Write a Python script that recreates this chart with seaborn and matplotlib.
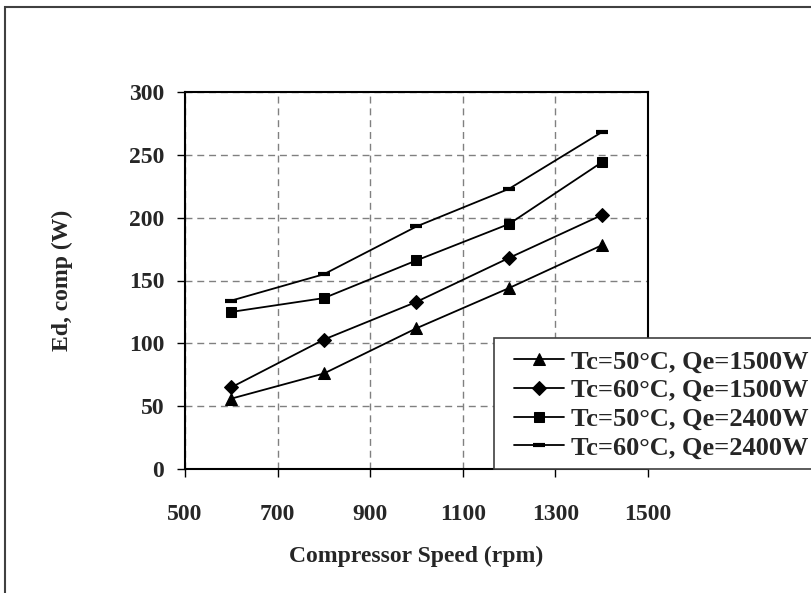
import matplotlib
matplotlib.use("Agg")
import matplotlib.pyplot as plt
import seaborn as sns
import pandas as pd
from matplotlib.patches import Rectangle

# ---- data ----
speed = [600, 800, 1000, 1200, 1400]
tc50_qe1500 = [56, 76, 112, 144, 178]
tc60_qe1500 = [65, 103, 133, 168, 202]
tc50_qe2400 = [125, 136, 166, 195, 244]
tc60_qe2400 = [134, 155, 193, 223, 268]
series_labels = ["Tc=50°C, Qe=1500W", "Tc=60°C, Qe=1500W",
                 "Tc=50°C, Qe=2400W", "Tc=60°C, Qe=2400W"]
x_ticks = [500, 700, 900, 1100, 1300, 1500]
y_ticks = [0, 50, 100, 150, 200, 250, 300]

sns.set_style("white")
plt.rcParams["font.family"] = ["Liberation Serif", "DejaVu Serif"]
plt.rcParams["font.weight"] = "bold"

W, H = 812, 593
fig = plt.figure(figsize=(W / 100, H / 100), dpi=100)
ax = fig.add_axes([185 / W, 1 - 469 / H, (648 - 185) / W, (469 - 92) / H])

values = [tc50_qe1500, tc60_qe1500, tc50_qe2400, tc60_qe2400]
styles = [dict(marker="^", markersize=8.5),
          dict(marker="D", markersize=7.2),
          dict(marker="s", markersize=7.5),
          dict(marker="_", markersize=9, markeredgewidth=3)]

for vals, lab, st in zip(values, series_labels, styles):
    df = pd.DataFrame({"speed": speed, "E": vals})
    sns.lineplot(data=df, x="speed", y="E", ax=ax, color="black", lw=1.3,
                 markerfacecolor="black", markeredgecolor="black",
                 label=lab, **st)

ax.set_xlim(500, 1500)
ax.set_ylim(0, 300)
ax.set_xticks(x_ticks)
ax.set_yticks(y_ticks)
ax.grid(True, color="#808080", linestyle=(0, (5, 3.5)), linewidth=1.0)
for s in ax.spines.values():
    s.set_visible(True)
    s.set_color("black")
    s.set_linewidth(1.5)

ax.tick_params(axis="both", direction="out", length=6, width=1, color="black",
               labelsize=17, bottom=True, left=True)
ax.tick_params(axis="y", pad=9)
ax.tick_params(axis="x", pad=19)
for t in ax.get_xticklabels() + ax.get_yticklabels():
    t.set_fontweight("bold")

ax.set_xlabel("Compressor Speed (rpm)", fontsize=17, fontweight="bold", labelpad=15)
ax.set_ylabel("Ed, comp (W)", fontsize=17, fontweight="bold", labelpad=40)

# legend frame (extends past the right edge of the figure)
fig.patches.append(Rectangle((494 / W, 1 - 469 / H), 0.5, (469 - 338) / H,
                             transform=fig.transFigure, facecolor="white",
                             edgecolor="#404040", linewidth=1.2, zorder=5))

handles, labels = ax.get_legend_handles_labels()
leg = fig.legend(handles, labels, loc="upper left",
                 bbox_to_anchor=(514 / W, 1 - 350 / H), bbox_transform=fig.transFigure,
                 prop={"family": "Liberation Serif", "weight": "bold", "size": 19},
                 frameon=False, borderpad=0, labelspacing=0.2,
                 handlelength=1.9, handletextpad=0.25, borderaxespad=0)
leg.set_zorder(6)
ax.get_legend().remove()

# outer figure border (top and left visible)
fig.patches.append(Rectangle((5 / W, -0.1), 1.2, 1.1 - 7 / H,
                             transform=fig.transFigure, fill=False,
                             edgecolor="#404040", linewidth=1.5, zorder=0))

fig.savefig("out.png", dpi=100)
